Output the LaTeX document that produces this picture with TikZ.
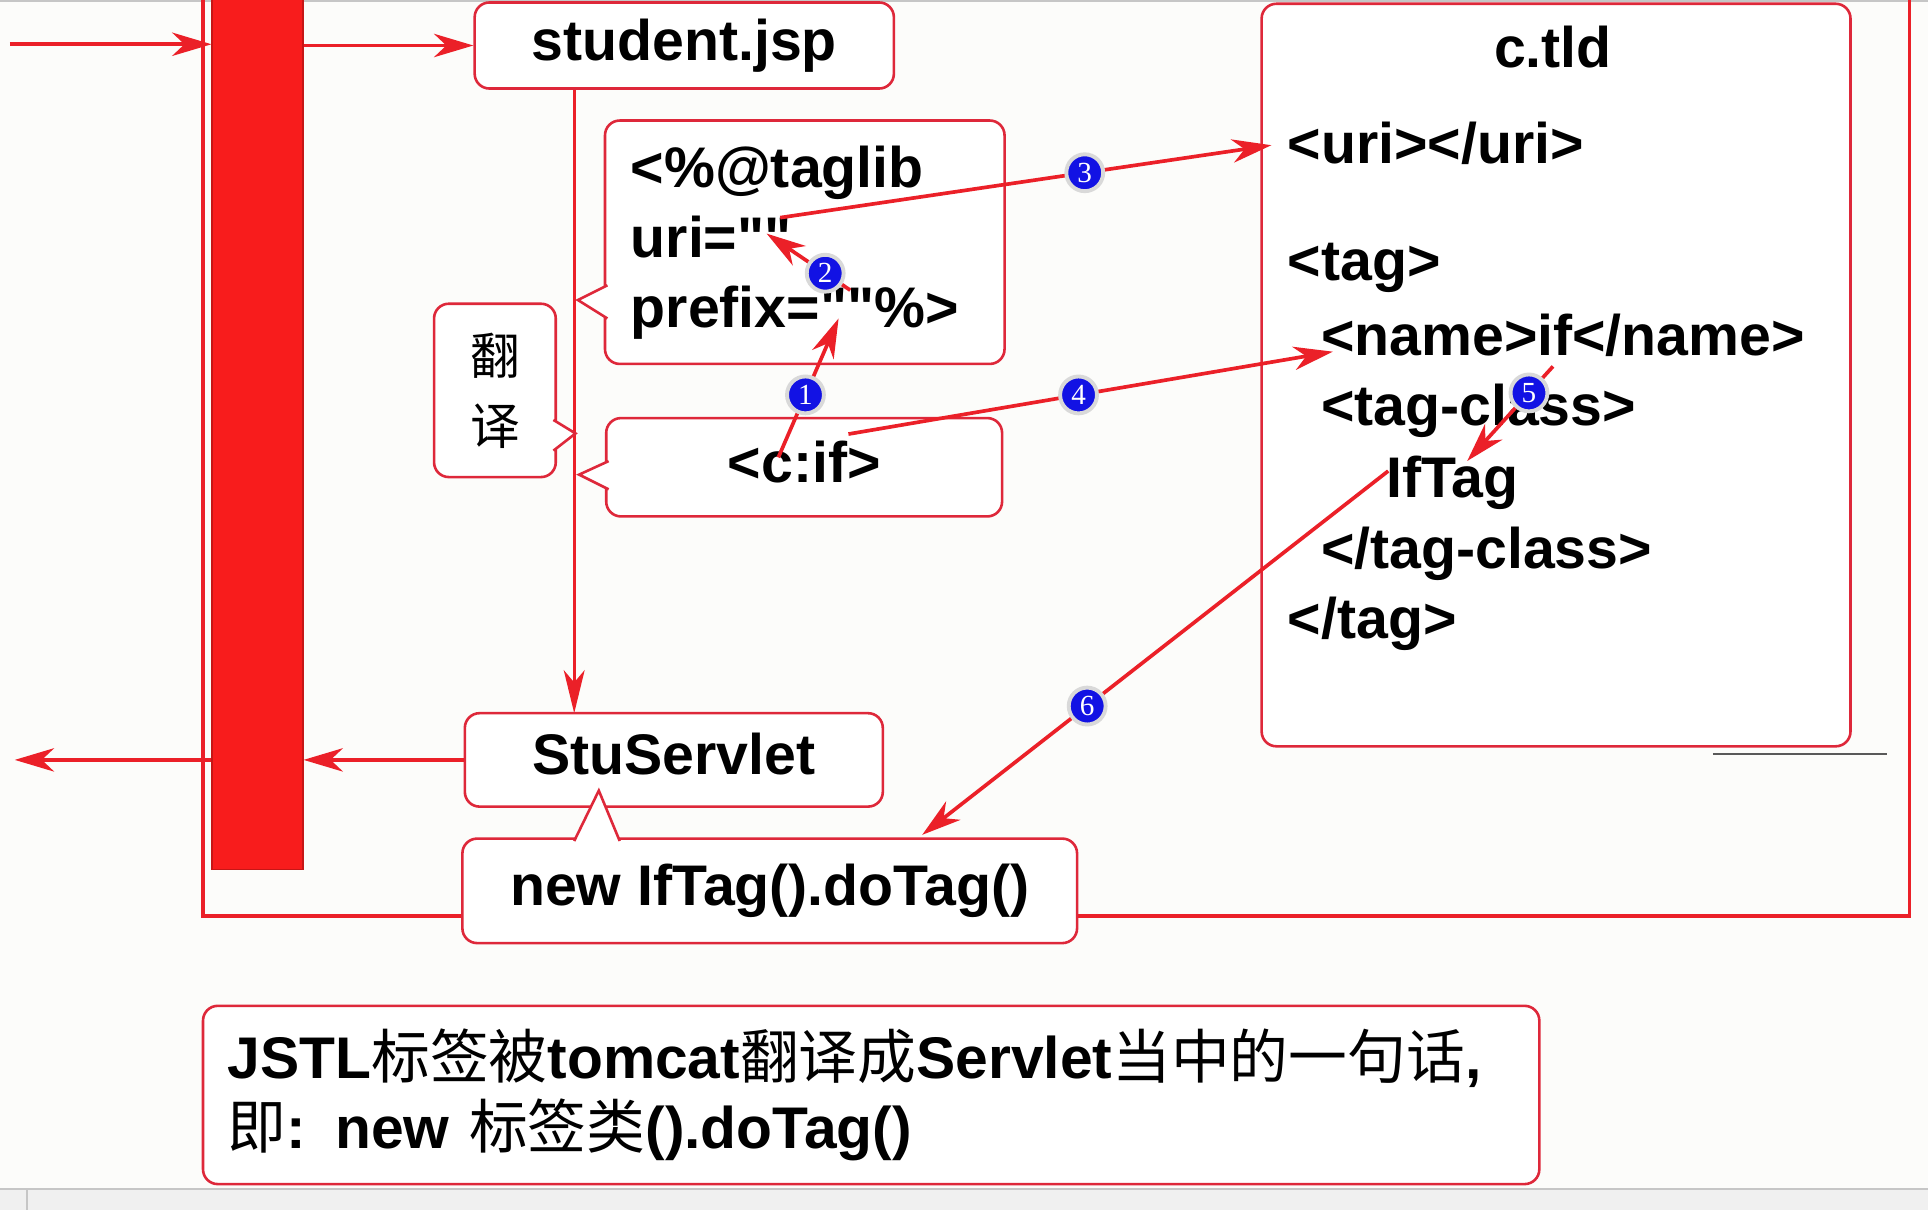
\documentclass[tikz,border=0pt]{standalone}
\usepackage{fontspec}
\setmainfont{Liberation Sans}[Ligatures=TeXOff]
\newfontfamily\cjk{Noto Sans CJK SC}
\newfontfamily\numfont{Liberation Serif}
\newcommand\zh[1]{{\cjk\mdseries #1}}
\usetikzlibrary{arrows.meta,calc}

\definecolor{linered}{RGB}{235,32,40}
\definecolor{boxred}{RGB}{222,40,58}
\definecolor{barred}{RGB}{248,28,28}
\definecolor{badgeblue}{RGB}{18,18,228}
\definecolor{paper}{RGB}{252,252,250}

\begin{document}
\begin{tikzpicture}[x=0.02cm, y=-0.02cm,
    box/.style={draw=boxred, line width=1.2pt, rounded corners=0.24cm, fill=white, inner sep=0,
      font=\fontsize{26.5}{32.4}\selectfont\bfseries},
    oneline/.style={text height=0.68cm, text depth=0.2cm},
    tldline/.style={anchor=base west, inner sep=0, font=\fontsize{26.5}{32.4}\selectfont\bfseries},
    calltail/.style={draw=boxred, line width=1.2pt, fill=white},
    arr/.style={draw=linered, line width=1.7pt, -{Stealth[length=0.64cm, width=0.38cm, inset=0.2cm]}},
    flow/.style={draw=linered, line width=1.3pt, -{Stealth[length=0.7cm, width=0.34cm, inset=0.2cm]}},
    badge/.style={circle, fill=badgeblue, draw=gray!30, line width=1.8pt, minimum size=0.6cm, inner sep=0,
      text=white, font=\numfont\fontsize{13.5}{13.5}\selectfont}]

    % background, window edges
    \fill[paper] (0,0) rectangle (1568,984);
    \useasboundingbox (0,0) rectangle (1568,984);
    \draw[gray!45, line width=1pt] (0,1) -- (1568,1);
    \fill[gray!12] (0,967) rectangle (1568,984);
    \draw[gray!45, line width=0.6pt] (0,967) -- (1568,967) (22,967) -- (22,984);

    % server frame and bar
    \draw[linered, line width=1.6pt] (165,-10) -- (165,745) -- (1553,745) -- (1553,-10);
    \draw[gray!70!black, line width=0.8pt] (1393,613) -- (1535,613);
    \node[fill=barred, draw=barred!80!black, line width=0.5pt, inner sep=0, anchor=north west,
        minimum width=1.48cm, minimum height=14.24cm] (bar) at (172,-5) {};

    % jsp page
    \node[box, oneline, minimum width=6.82cm, minimum height=1.4cm] (jsp) at (556.5,37) {student.jsp};
    \draw[flow] ($(jsp.south west)+(82,0)$) coordinate (drop) -- (drop |- 0,580);

    % translated parts
    \node[box, minimum width=6.5cm, minimum height=3.96cm, text width=5.66cm, inner xsep=0.42cm, align=left]
        (taglib) at (654.5,197) {<\%@taglib\\uri=""\\prefix=""\%>};
    \node[box, oneline, minimum width=6.44cm, minimum height=1.6cm] (cif) at (654,380) {<c:if>};
    \node[box, minimum width=1.98cm, minimum height=2.82cm, align=center,
        font=\cjk\fontsize{23}{32.4}\selectfont] (fanyi) at (402.5,317.5) {翻\\译};
    \node[box, oneline, minimum width=6.8cm, minimum height=1.52cm] (servlet) at (548,618) {StuServlet};
    \node[box, oneline, minimum width=10cm, minimum height=1.7cm] (newtag) at (626,724.5) {new IfTag().doTag()};

    % callout tails
    \path[calltail] ($(taglib.west)+(3,35)$) -- ($(taglib.west)+(-21,47)$) -- ($(taglib.west)+(3,62)$);
    \path[calltail] ($(cif.west)+(3,-5)$) -- ($(cif.west)+(-21,6)$) -- ($(cif.west)+(3,18)$);
    \path[calltail] ($(fanyi.east)+(-3,24)$) -- ($(fanyi.east)+(15,35)$) -- ($(fanyi.east)+(-3,49)$);
    \path[calltail] ($(newtag.north west)+(92,3)$) -- ($(newtag.north west)+(112,-38)$) -- ($(newtag.north west)+(129,3)$);

    % c.tld
    \node[box, minimum width=9.58cm, minimum height=12.08cm] (tld) at (1265.5,305) {};
    \node[tldline, anchor=base] (tldname) at (1263,55) {c.tld};
    \node[tldline] (uri) at (1047,133) {<uri></uri>};
    \node[tldline] (tag) at (1047,228) {<tag>};
    \node[tldline] (name) at (1074,289) {<name>if</name>};
    \node[tldline] (tagclass) at (1074,346) {<tag-class>};
    \node[tldline] (iftag) at (1127,405) {IfTag};
    \node[tldline] (tagclassend) at (1074,462) {</tag-class>};
    \node[tldline] (tagend) at (1047,519) {</tag>};

    % request and response
    \coordinate (req) at (8,36);
    \coordinate (resp) at (12,618);
    \draw[arr] (req) -- (req -| bar.west);
    \draw[arr] (jsp.west -| bar.east) -- (jsp.west);
    \draw[arr] (servlet.west) -- (servlet.west -| bar.east);
    \draw[arr] (servlet.west -| bar.west) -- (resp);

    % numbered steps
    \draw[arr] ($(cif.center)+(-21,-8)$) -- node[badge, pos=0.45] (n1) {1} ($(taglib.center)+(27.5,62)$);
    \draw[arr] ($(taglib.center)+(37,39)$) -- node[badge, pos=0.3] (n2) {2} ($(taglib.center)+(-31,-7)$);
    \draw[arr] ($(taglib.center)+(-20,-20)$) -- node[badge, pos=0.62] (n3) {3} ($(uri.west)+(-13,1.5)$);
    \draw[arr] ($(cif.center)+(36,-27)$) -- node[badge, pos=0.475] (n4) {4} ($(name.base west)+(10,-3)$);
    \draw[arr] ($(name.base west)+(189,9)$) -- node[badge, pos=0.28] (n5) {5} ($(iftag.north)+(12,4)$);
    \draw[arr] ($(iftag.west)+(2,-10)$) -- node[badge, pos=0.646] (n6) {6} ($(newtag.north)+(124,-2)$);

    % summary
    \node[box, minimum height=2.9cm, text width=20.94cm, inner xsep=0.4cm, align=left,
        font=\fontsize{27.2}{32.4}\selectfont\bfseries] (note) at (708.5,890.5)
        {JSTL\zh{标签被}tomcat\zh{翻译成}Servlet\zh{当中的一句话},\\\zh{即}: new \zh{标签类}().doTag()};
\end{tikzpicture}
\end{document}
